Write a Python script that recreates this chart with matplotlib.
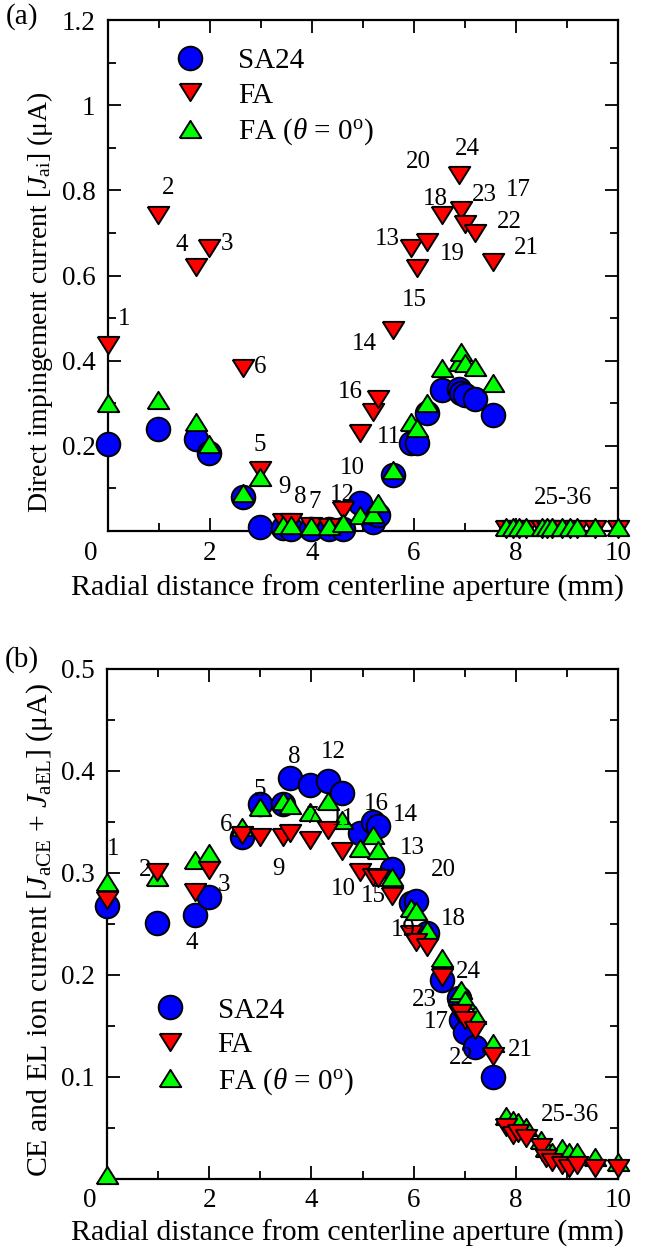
import matplotlib
matplotlib.use('Agg')
import matplotlib.pyplot as plt
from matplotlib.ticker import MultipleLocator
from matplotlib.lines import Line2D
from matplotlib.transforms import ScaledTranslation

plt.rcParams['font.family'] = ['Liberation Serif', 'DejaVu Serif']
plt.rcParams['mathtext.fontset'] = 'custom'
plt.rcParams['mathtext.rm'] = 'Liberation Serif'
plt.rcParams['mathtext.it'] = 'Liberation Serif:italic'
plt.rcParams['mathtext.bf'] = 'Liberation Serif:bold'

# ---------------- data ----------------
# radial positions of points 1-24 (mm)
x_near = [0.0, 0.98, 1.72, 1.99, 2.65, 2.99, 3.44, 3.58, 3.98, 4.33, 4.6, 4.95,
          5.2, 5.3, 5.58, 5.95, 6.05, 6.26, 6.55, 6.88, 6.93, 7.0, 7.2, 7.55]
# radial positions of points 25-36 (mm)
x_far = [7.8, 7.95, 8.05, 8.2, 8.5, 8.6, 8.7, 8.9, 9.05, 9.2, 9.55, 10.0]

# (a) direct impingement current (uA)
sa24_a = [0.205, 0.239, 0.216, 0.182, 0.081, 0.009, 0.006, 0.005, 0.005, 0.005, 0.005, 0.066,
          0.022, 0.038, 0.131, 0.206, 0.206, 0.276, 0.331, 0.333, 0.325, 0.319, 0.311, 0.272]
fa_a = [0.437, 0.742, 0.620, 0.664, 0.382, 0.143, 0.022, 0.020, 0.012, 0.010, 0.049, 0.229,
        0.280, 0.311, 0.472, 0.664, 0.617, 0.679, 0.742, 0.836, 0.754, 0.722, 0.699, 0.632,
        0.004, 0.004, 0.004, 0.004, 0.004, 0.004, 0.004, 0.004, 0.004, 0.004, 0.004, 0.004]
fa0_a = [0.300, 0.307, 0.257, 0.204, 0.090, 0.126, 0.014, 0.014, 0.012, 0.012, 0.018, 0.038,
         0.041, 0.065, 0.143, 0.257, 0.241, 0.300, 0.382, 0.397, 0.421, 0.394, 0.386, 0.347,
         0.009, 0.009, 0.009, 0.009, 0.009, 0.009, 0.009, 0.009, 0.009, 0.009, 0.009, 0.009]

# (b) CE and EL ion current (uA)
sa24_b = [0.267, 0.251, 0.259, 0.276, 0.335, 0.368, 0.368, 0.393, 0.386, 0.390, 0.378, 0.339,
          0.350, 0.346, 0.304, 0.270, 0.272, 0.241, 0.195, 0.177, 0.156, 0.144, 0.129, 0.100]
fa_b = [0.273, 0.301, 0.281, 0.303, 0.337, 0.335, 0.335, 0.339, 0.332, 0.342, 0.321, 0.301,
        0.296, 0.295, 0.277, 0.240, 0.232, 0.227, 0.198, 0.162, 0.162, 0.156, 0.146, 0.120,
        0.051, 0.043, 0.045, 0.040, 0.031, 0.020, 0.016, 0.013, 0.010, 0.013, 0.010, 0.010]
fa0_b = [0.291, 0.296, 0.313, 0.319, 0.345, 0.365, 0.370, 0.367, 0.360, 0.370, 0.352, 0.324,
         0.337, 0.322, 0.296, 0.265, 0.263, 0.244, 0.216, 0.182, 0.185, 0.175, 0.160, 0.133,
         0.061, 0.057, 0.055, 0.051, 0.038, 0.030, 0.026, 0.030, 0.026, 0.026, 0.021, 0.016]
# extra FA(theta=0) point at the origin of panel (b)
fa0_b_extra_x = [0.0]
fa0_b_extra_y = [0.003]

# point-number labels: text, x (mm), y (uA)
lab_a = ['1', '2', '4', '3', '6', '5', '9', '8', '7', '12', '10', '16', '11', '14', '15',
         '13', '19', '18', '20', '24', '23', '17', '22', '21', '25-36']
lab_a_x = [0.31, 1.17, 1.45, 2.33, 2.99, 2.97, 3.46, 3.76, 4.05, 4.59, 4.79, 4.75, 5.5, 5.02, 6.0,
           5.48, 6.75, 6.42, 6.09, 7.05, 7.38, 8.05, 7.87, 8.2, 8.93]
lab_a_y = [0.497, 0.805, 0.671, 0.675, 0.384, 0.202, 0.104, 0.079, 0.069, 0.085, 0.147, 0.327,
           0.221, 0.44, 0.542, 0.685, 0.65, 0.779, 0.867, 0.896, 0.789, 0.8, 0.726, 0.664, 0.077]

lab_b = ['1', '2', '3', '4', '6', '5', '8', '12', '7', '11', '9', '10', '16', '14', '13', '15',
         '20', '18', '19', '24', '23', '17', '22', '21', '25-36']
lab_b_x = [0.12, 0.74, 2.28, 1.66, 2.34, 2.99, 3.66, 4.42, 4.0, 4.62, 3.35, 4.62, 5.28, 5.83,
           5.98, 5.21, 6.58, 6.78, 5.8, 7.07, 6.22, 6.44, 6.94, 8.08, 9.06]
lab_b_y = [0.323, 0.303, 0.288, 0.231, 0.347, 0.381, 0.414, 0.419, 0.355, 0.353, 0.304, 0.284,
           0.368, 0.357, 0.324, 0.277, 0.303, 0.255, 0.244, 0.203, 0.175, 0.154, 0.118, 0.126, 0.062]

series_names = ['SA24', 'FA', r'FA ($\theta$ = 0$^{\mathrm{o}}$)']
x_ticks = [0, 2, 4, 6, 8, 10]
x_ticklabels = ['0', '2', '4', '6', '8', '10']
y_ticks_a = [0.2, 0.4, 0.6, 0.8, 1.0, 1.2]
y_ticklabels_a = ['0.2', '0.4', '0.6', '0.8', '1', '1.2']
y_ticks_b = [0.1, 0.2, 0.3, 0.4, 0.5]
y_ticklabels_b = ['0.1', '0.2', '0.3', '0.4', '0.5']

# ---------------- style ----------------
TRI_DOWN = [(-1, 0.8), (1, 0.8), (0, -0.8), (-1, 0.8)]
TRI_UP = [(-1, -0.8), (1, -0.8), (0, 0.8), (-1, -0.8)]
MS_C = 17.0
MS_T = 15.5
MEW = 1.4
st_sa = dict(ls='none', marker='o', ms=MS_C, mfc='#0000ff', mec='black', mew=MEW, clip_on=False)
st_fa = dict(ls='none', marker=TRI_DOWN, ms=MS_T, mfc='#ff0000', mec='black', mew=MEW, clip_on=False)
st_fa0 = dict(ls='none', marker=TRI_UP, ms=MS_T, mfc='#00ff00', mec='black', mew=MEW, clip_on=False)

TICK_FS = 19.5
XLAB_FS = 21.5
YLAB_FS_A = 20
YLAB_FS_B = 21.5
ANN_FS = 18
LEG_FS = 21

fig = plt.figure(figsize=(6.56, 12.52), dpi=100)
ax1 = fig.add_axes([108 / 656, 1 - 531 / 1252, 510 / 656, 511 / 1252])
ax2 = fig.add_axes([107 / 656, 1 - 1178.5 / 1252, 511 / 656, 509.5 / 1252])

x_all = x_near + x_far

# panel (a)
ax1.plot(x_near, sa24_a, zorder=3, **st_sa)
ax1.plot(x_all, fa_a, zorder=4, **st_fa)
ax1.plot(x_all, fa0_a, zorder=5, **st_fa0)
for t, xx, yy in zip(lab_a, lab_a_x, lab_a_y):
    ax1.text(xx, yy, t, fontsize=ANN_FS, ha='center', va='center', zorder=6)

# panel (b)
ax2.plot(x_near, sa24_b, zorder=3, **st_sa)
ax2.plot(x_all, fa0_b, zorder=4, **st_fa0)
ax2.plot(fa0_b_extra_x, fa0_b_extra_y, zorder=4, **st_fa0)
ax2.plot(x_all, fa_b, zorder=5, **st_fa)
for t, xx, yy in zip(lab_b, lab_b_x, lab_b_y):
    ax2.text(xx, yy, t, fontsize=ANN_FS, ha='center', va='center', zorder=6)

for ax, yt, ytl, ymax, yminor in [(ax1, y_ticks_a, y_ticklabels_a, 1.2, 0.1),
                                   (ax2, y_ticks_b, y_ticklabels_b, 0.5, 0.05)]:
    ax.set_xlim(0, 10)
    ax.set_ylim(0, ymax)
    ax.set_xticks(x_ticks)
    ax.set_xticklabels(x_ticklabels)
    ax.xaxis.set_minor_locator(MultipleLocator(1))
    ax.set_yticks(yt)
    ax.set_yticklabels(ytl)
    ax.yaxis.set_minor_locator(MultipleLocator(yminor))
    ax.tick_params(which='both', direction='in', top=True, right=True,
                   labelsize=TICK_FS, width=1.3, color='black')
    ax.tick_params(which='major', length=9.5)
    ax.tick_params(which='minor', length=5.5)
    ax.tick_params(axis='x', pad=7)
    ax.tick_params(axis='y', pad=9)
    for s in ax.spines.values():
        s.set_linewidth(1.6)
    # the "0" label sits left of the axis origin in the reference
    lbl0 = ax.get_xticklabels()[0]
    lbl0.set_transform(lbl0.get_transform() + ScaledTranslation(-17 / 100, 0, fig.dpi_scale_trans))
    ax.set_xlabel('Radial distance from centerline aperture (mm)', fontsize=XLAB_FS)

ax1.xaxis.set_label_coords(0.47, -0.112)
ax2.xaxis.set_label_coords(0.47, -0.107)
ax1.xaxis.label.set_va('center')
ax2.xaxis.label.set_va('center')

ax1.set_ylabel(r'Direct impingement current [$\mathit{J}_{\mathrm{ai}}$] (μA)', fontsize=YLAB_FS_A, va='center')
ax1.yaxis.set_label_coords(-0.133, 0.448)
ax2.set_ylabel(r'CE and EL ion current [$\mathit{J}_{\mathrm{aCE}}$ + $\mathit{J}_{\mathrm{aEL}}$] (μA)',
               fontsize=YLAB_FS_B, va='center')
ax2.yaxis.set_label_coords(-0.131, 0.488)

handles = [Line2D([], [], **st_sa), Line2D([], [], **st_fa), Line2D([], [], **st_fa0)]
leg_kw = dict(frameon=False, fontsize=LEG_FS, handlelength=1.0, handletextpad=1.13,
              borderpad=0, borderaxespad=0, labelspacing=0.28, loc='upper left', numpoints=1)
ax1.legend(handles, series_names, bbox_to_anchor=(0.133, 0.946), **leg_kw)
ax2.legend(handles, series_names, bbox_to_anchor=(0.095, 0.356), **leg_kw)

fig.text(22 / 656, 1 - 17 / 1252, '(a)', fontsize=21, ha='center', va='center')
fig.text(22 / 656, 1 - 660 / 1252, '(b)', fontsize=21, ha='center', va='center')

fig.savefig('out.png', dpi=100)
